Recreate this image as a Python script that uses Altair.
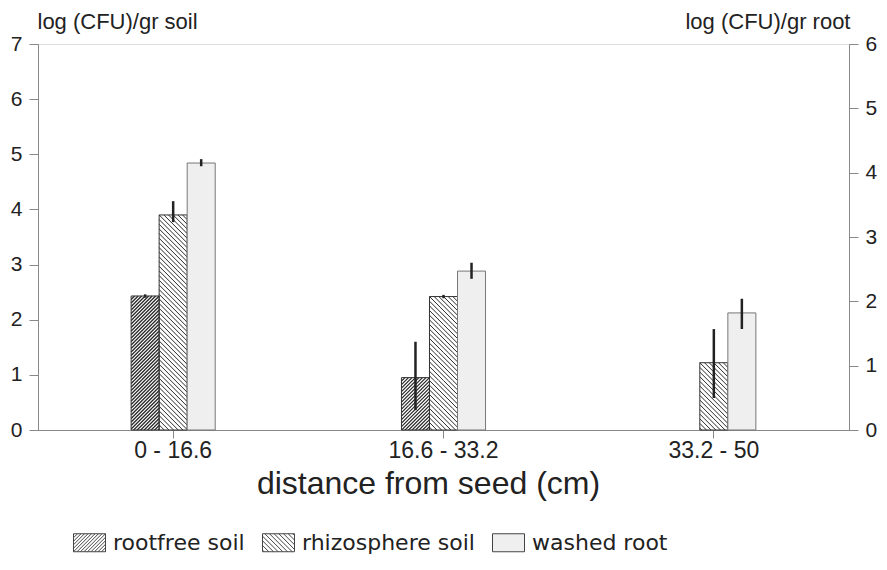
import altair as alt
import pandas as pd

groups = ["0 - 16.6", "16.6 - 33.2", "33.2 - 50"]
series = ["rootfree soil", "rhizosphere soil", "washed root"]

# left axis: log (CFU)/gr soil
rootfree_mean = [2.43, 0.95]
rootfree_lo = [2.40, 0.36]
rootfree_hi = [2.46, 1.60]
rhizo_mean = [3.90, 2.42, 1.22]
rhizo_lo = [3.77, 2.39, 0.58]
rhizo_hi = [4.15, 2.45, 1.83]
# right axis: log (CFU)/gr root
root_mean = [4.15, 2.47, 1.82]
root_lo = [4.10, 2.35, 1.57]
root_hi = [4.21, 2.60, 2.04]

left_ticks = [0, 1, 2, 3, 4, 5, 6, 7]
right_ticks = [0, 1, 2, 3, 4, 5, 6]

soil_rows = []
for g, m, lo, hi in zip(groups, rootfree_mean, rootfree_lo, rootfree_hi):
    soil_rows.append({"group": g, "series": series[0], "mean": m, "lo": lo, "hi": hi})
for g, m, lo, hi in zip(groups, rhizo_mean, rhizo_lo, rhizo_hi):
    soil_rows.append({"group": g, "series": series[1], "mean": m, "lo": lo, "hi": hi})
soil = pd.DataFrame(soil_rows)

root = pd.DataFrame({"group": groups, "series": series[2], "mean": root_mean,
                     "lo": root_lo, "hi": root_hi})

FONT = "DejaVu Sans"
PLOT_W, PLOT_H = 811, 386
TILE_PX = 28  # hatch tile = one bar width


def hatch_path(a, b, spacing_units, forward, outline):
    """Symbol path of 45-degree hatch lines clipped to [-a,a]x[-b,b]."""
    parts = []
    if outline:
        parts.append(f"M{-a:.3f},{-b:.3f}L{a:.3f},{-b:.3f}L{a:.3f},{b:.3f}L{-a:.3f},{b:.3f}Z")
    n = int((a + b) / spacing_units) + 2
    for k in range(-n, n + 1):
        c = k * spacing_units
        if forward:  # "/" : x + y = c
            x0, x1 = max(-a, c - b), min(a, c + b)
            if x1 - x0 > 1e-6:
                parts.append(f"M{x0:.3f},{c - x0:.3f}L{x1:.3f},{c - x1:.3f}")
        else:  # "\" : y = x + c
            x0, x1 = max(-a, -b - c), min(a, b - c)
            if x1 - x0 > 1e-6:
                parts.append(f"M{x0:.3f},{x0 + c:.3f}L{x1:.3f},{x1 + c:.3f}")
    return "".join(parts)


# tiles for the bars (seamless: spacing divides the tile size)
RF_SP, RH_SP = 3.5, 28 / 6
tile_rootfree = hatch_path(1, 1, 2 * RF_SP / TILE_PX, True, False)
tile_rhizo = hatch_path(1, 1, 2 * RH_SP / TILE_PX, False, False)
# legend symbols (32 x 18 px rectangle, +-1 = 16 px)
leg_rootfree = hatch_path(1, 0.5625, 2 * RF_SP / 32, True, True)
leg_rhizo = hatch_path(1, 0.5625, 2 * RH_SP / 32, False, True)
leg_plain = "M-1,-0.5625L1,-0.5625L1,0.5625L-1,0.5625Z"

step_left = TILE_PX * 7 / PLOT_H  # tile height in left-axis units

x_enc = alt.X("group:N", sort=groups,
              scale=alt.Scale(domain=groups, paddingInner=0.689, paddingOuter=0.3445),
              axis=alt.Axis(title="distance from seed (cm)", labelAngle=0,
                            labelFontSize=23, titleFontSize=32, labelPadding=1,
                            titlePadding=6, tickSize=8, labelColor="#222", titleX=390,
                            titleColor="#222", titleFontWeight="normal"))
xo_enc = alt.XOffset("series:N", scale=alt.Scale(domain=series, paddingInner=0, paddingOuter=0))

shape_signal = (f"datum.value === '{series[0]}' ? '{leg_rootfree}' : "
                f"datum.value === '{series[1]}' ? '{leg_rhizo}' : '{leg_plain}'")
fill_enc = alt.Fill("series:N",
                    scale=alt.Scale(domain=series, range=["#ffffff", "#ffffff", "#efefef"]),
                    legend=alt.Legend(title=None, orient="none", direction="horizontal",
                                      legendX=35, legendY=482, labelFontSize=22,
                                      labelFont=FONT, labelColor="#222", labelLimit=400,
                                      symbolType=alt.ExprRef(expr=shape_signal),
                                      symbolSize=1024, symbolStrokeColor="#444",
                                      symbolStrokeWidth=1, labelOffset=7,
                                      columnPadding=15, padding=0))

left_axis = alt.Axis(orient="left", values=left_ticks, title="log (CFU)/gr soil",
                     titleAngle=0, titleAlign="left", titleBaseline="alphabetic",
                     titleX=-1, titleY=-16, titleFontSize=22, titleFontWeight="normal",
                     labelFontSize=21, tickSize=9, labelPadding=7, grid=False,
                     labelColor="#222", titleColor="#222")
right_axis = alt.Axis(orient="right", values=right_ticks, title="log (CFU)/gr root",
                      titleAngle=0, titleAlign="right", titleBaseline="alphabetic",
                      titleX=1, titleY=-16, titleFontSize=22, titleFontWeight="normal",
                      labelFontSize=21, tickSize=9, labelPadding=7, grid=False,
                      labelColor="#222", titleColor="#222")

left_scale = alt.Scale(domain=[0, 7], nice=False)
right_scale = alt.Scale(domain=[0, 6], nice=False)

soil_base = alt.Chart(soil)

soil_bars = soil_base.mark_bar(strokeWidth=0).encode(
    x=x_enc, xOffset=xo_enc, fill=fill_enc,
    y=alt.Y("mean:Q", scale=left_scale, axis=left_axis),
)


def tiles(name, path, width):
    return soil_base.transform_filter(
        alt.datum.series == name
    ).transform_calculate(
        k=f"sequence(0, ceil(datum.mean / {step_left}))"
    ).transform_flatten(["k"]).transform_calculate(
        yc=f"datum.mean - (datum.k + 0.5) * {step_left}"
    ).mark_point(shape=path, size=TILE_PX * TILE_PX, filled=False, stroke="#2a2a2a",
                 strokeWidth=width, opacity=1, clip=True).encode(
        x=x_enc, xOffset=xo_enc,
        y=alt.Y("yc:Q", scale=left_scale, axis=left_axis),
    )


soil_outline = soil_base.mark_bar(fillOpacity=0, stroke="#333", strokeWidth=1).encode(
    x=x_enc, xOffset=xo_enc,
    y=alt.Y("mean:Q", scale=left_scale, axis=left_axis),
)
soil_err = soil_base.mark_rule(color="#222", strokeWidth=2.5).encode(
    x=x_enc, xOffset=xo_enc,
    y=alt.Y("lo:Q", scale=left_scale, axis=left_axis), y2="hi:Q",
)

root_bars = alt.Chart(root).mark_bar(stroke="#777", strokeWidth=1).encode(
    x=x_enc, xOffset=xo_enc, fill=fill_enc,
    y=alt.Y("mean:Q", scale=right_scale, axis=right_axis),
)
root_err = alt.Chart(root).mark_rule(color="#222", strokeWidth=2.5).encode(
    x=x_enc, xOffset=xo_enc,
    y=alt.Y("lo:Q", scale=right_scale, axis=right_axis), y2="hi:Q",
)

chart = alt.layer(
    alt.layer(soil_bars, tiles(series[0], tile_rootfree, 1.3),
              tiles(series[1], tile_rhizo, 1.0), soil_outline, soil_err),
    alt.layer(root_bars, root_err),
).resolve_scale(y="independent").properties(
    width=PLOT_W, height=PLOT_H,
    padding={"left": 30, "top": 36, "right": 30, "bottom": 130},
    autosize=alt.AutoSizeParams(type="none"),
).configure_axis(
    labelFont=FONT, titleFont=FONT, domainColor="#666", tickColor="#666",
).configure_view(stroke="#666").configure(background="white")

chart.save("out.html", embed_options={"renderer": "svg", "actions": False})
